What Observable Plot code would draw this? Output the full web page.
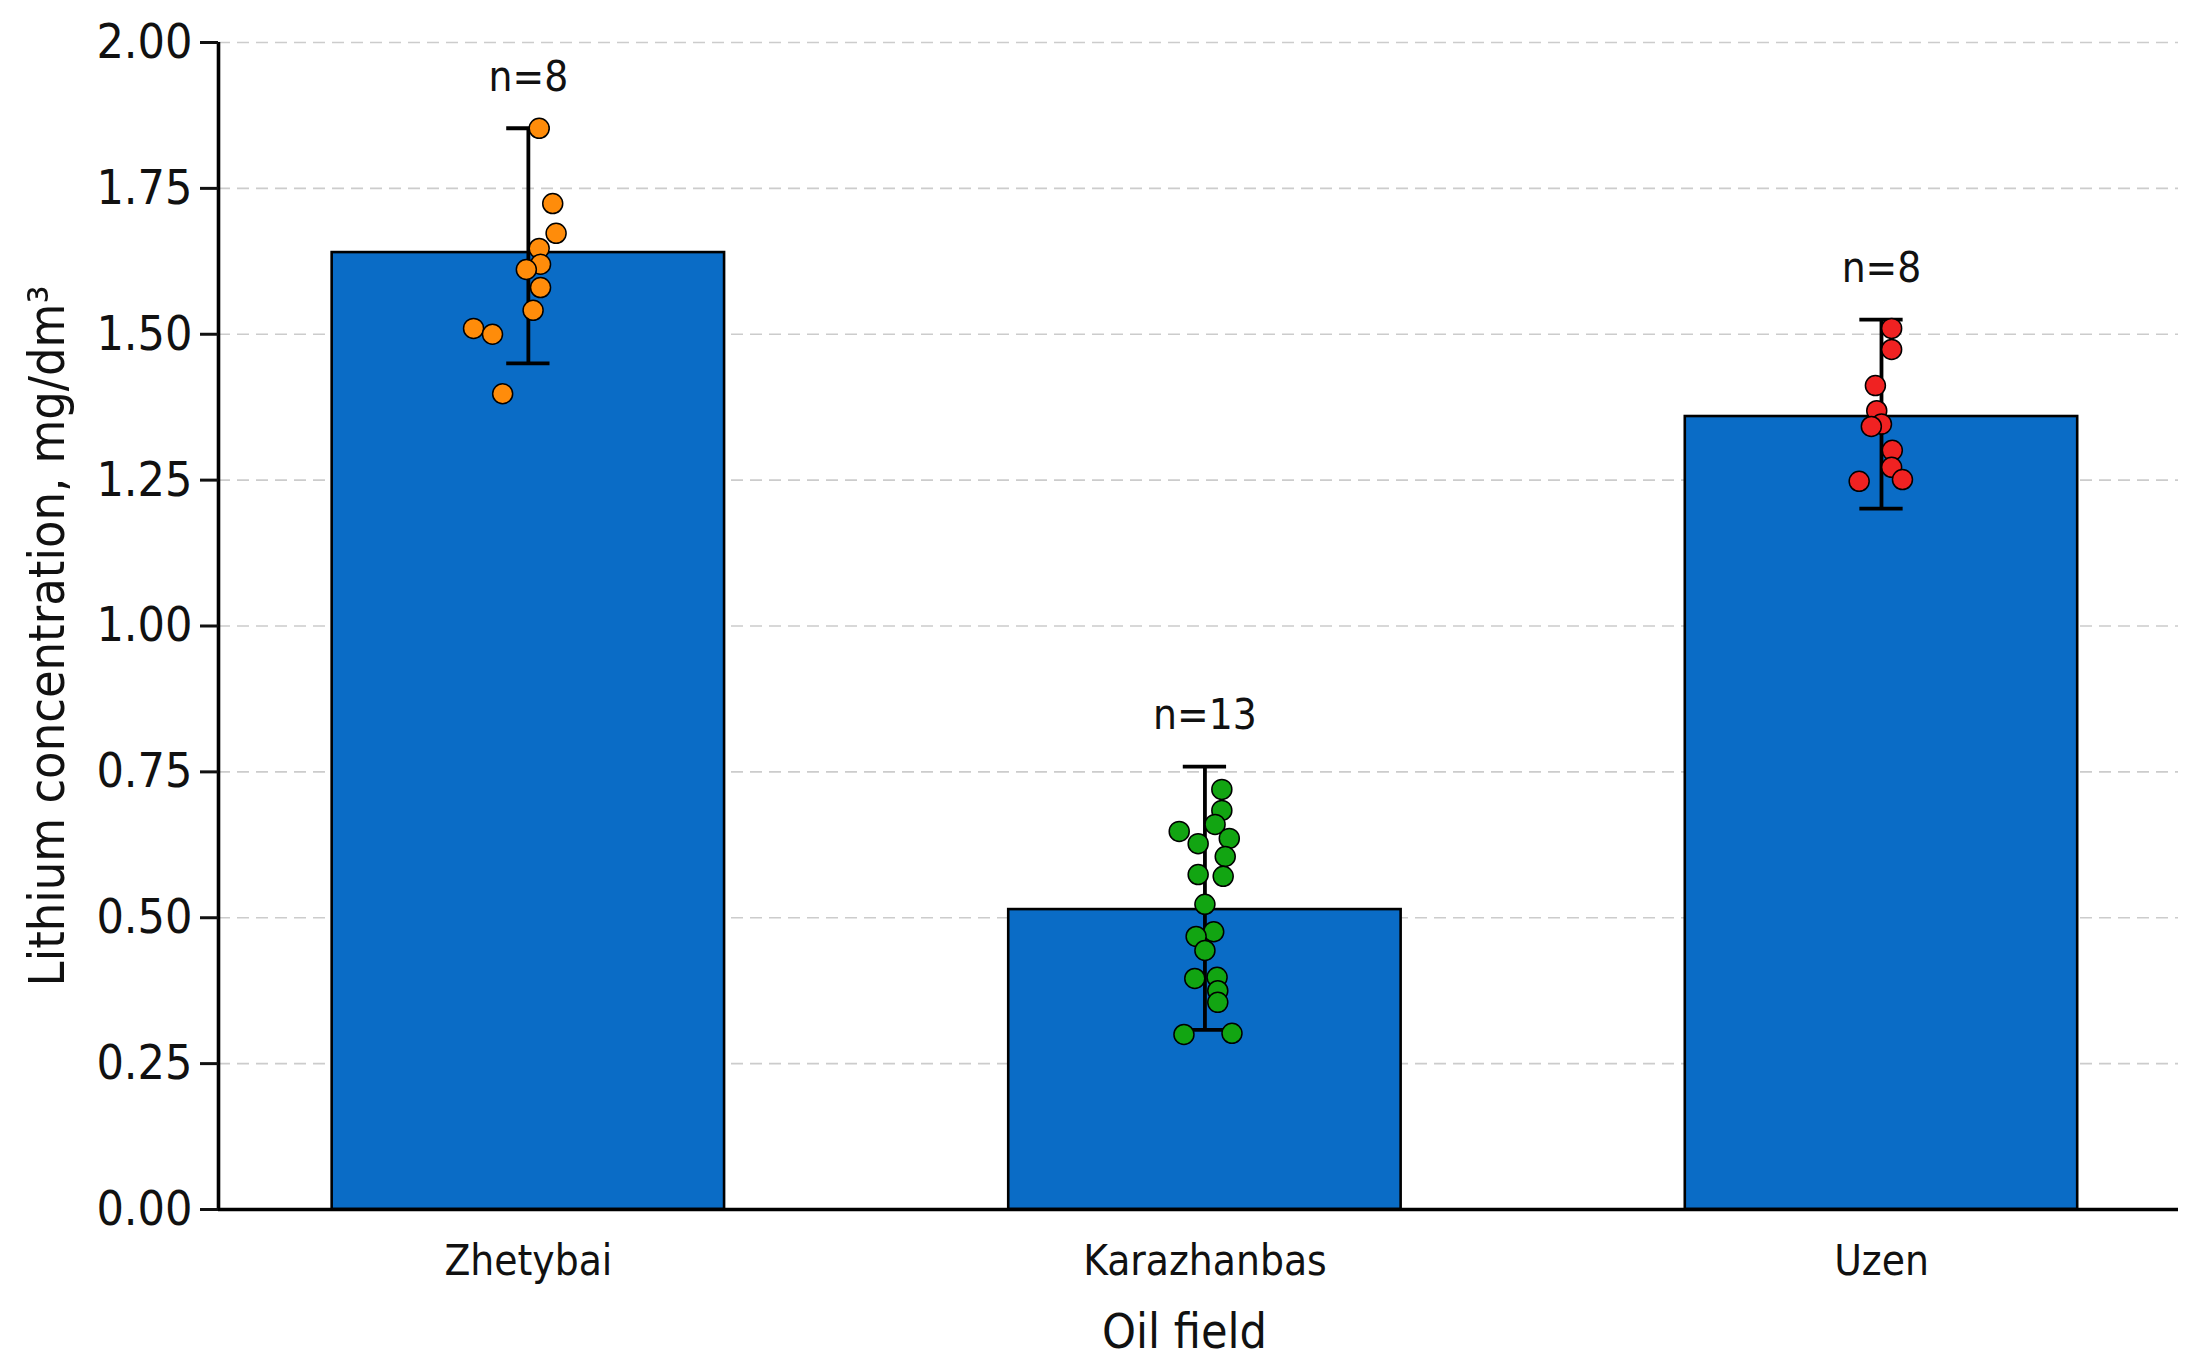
<!DOCTYPE html>
<html>
<head>
<meta charset="utf-8">
<script src="https://cdn.jsdelivr.net/npm/d3@7"></script>
<script src="https://cdn.jsdelivr.net/npm/@observablehq/plot@0.6"></script>
<style>
  html, body { margin: 0; padding: 0; background: #fff; }
  #chart svg { display: block; }
</style>
</head>
<body>
<div id="chart"></div>
<script>
// ---- data ----
const fields = ["Zhetybai", "Karazhanbas", "Uzen"];
const means  = [1.640, 0.514, 1.359];
const lower  = [1.450, 0.308, 1.201];
const upper  = [1.853, 0.759, 1.525];
const counts = [8, 13, 8];

const zhetybaiValues = [1.853, 1.724, 1.673, 1.647, 1.620, 1.611, 1.580, 1.541, 1.510, 1.500, 1.398];
const zhetybaiJitter = [0.016, 0.036, 0.041, 0.016, 0.018, -0.003, 0.018, 0.007, -0.081, -0.053, -0.038];

const karazhanbasValues = [0.720, 0.684, 0.660, 0.648, 0.627, 0.636, 0.605, 0.574, 0.571, 0.523, 0.476, 0.468, 0.444, 0.396, 0.398, 0.375, 0.355, 0.300, 0.302];
const karazhanbasJitter = [0.025, 0.025, 0.015, -0.038, -0.010, 0.036, 0.030, -0.010, 0.027, 0.000, 0.013, -0.013, 0.000, -0.015, 0.018, 0.019, 0.019, -0.031, 0.040];

const uzenValues = [1.510, 1.474, 1.412, 1.369, 1.346, 1.342, 1.301, 1.272, 1.248, 1.251];
const uzenJitter = [0.015, 0.015, -0.009, -0.007, 0.000, -0.015, 0.016, 0.015, -0.033, 0.031];

const yTicks = [0, 0.25, 0.5, 0.75, 1.0, 1.25, 1.5, 1.75, 2.0];
const yLabel = "Lithium concentration, mg/dm³";
const xLabel = "Oil field";

// ---- tables built from the arrays ----
const fieldTable = fields.map((name, i) => ({
  name, i, mean: means[i], lower: lower[i], upper: upper[i], n: counts[i]
}));
const caps = fieldTable.flatMap(d => [{i: d.i, y: d.lower}, {i: d.i, y: d.upper}]);
const points = [
  ...zhetybaiValues.map((v, k) => ({i: 0, v, j: zhetybaiJitter[k]})),
  ...karazhanbasValues.map((v, k) => ({i: 1, v, j: karazhanbasJitter[k]})),
  ...uzenValues.map((v, k) => ({i: 2, v, j: uzenJitter[k]}))
];

// ---- layout / style ----
const W = 2196, H = 1370;
const xDomain = [-0.458, 2.439];
const barHalf = 0.29;
const capHalf = 0.032;
const font = "'DejaVu Sans Condensed', 'DejaVu Sans', sans-serif";

const chart = Plot.plot({
  width: W,
  height: H,
  marginLeft: 218,
  marginRight: 18,
  marginTop: 42,
  marginBottom: 161,
  style: {fontFamily: font, fontStretch: "condensed", background: "#fff", color: "#111"},
  x: {type: "linear", domain: xDomain},
  y: {domain: [0, 2]},
  color: {domain: fields, range: ["#ff8c0a", "#12a512", "#f02222"]},
  marks: [
    Plot.gridY({ticks: yTicks, stroke: "#cccccc", strokeOpacity: 1, strokeWidth: 1.6, strokeDasharray: "12,7"}),
    Plot.rectY(fieldTable, {
      x1: d => d.i - barHalf, x2: d => d.i + barHalf, y1: 0, y2: "mean",
      fill: "#0a6cc6", stroke: "#000", strokeWidth: 2.6
    }),
    Plot.ruleX(fieldTable, {x: "i", y1: "lower", y2: "upper", stroke: "#000", strokeWidth: 3.8}),
    Plot.ruleY(caps, {y: "y", x1: d => d.i - capHalf, x2: d => d.i + capHalf, stroke: "#000", strokeWidth: 3.8}),
    Plot.dot(points, {
      x: d => d.i + d.j, y: "v", r: 10,
      fill: d => fields[d.i], stroke: "#000", strokeWidth: 1.5
    }),
    Plot.text(fieldTable, {
      x: "i", y: "upper", text: d => "n=" + d.n, dy: -51,
      fontSize: 42, lineAnchor: "middle", fill: "#111"
    }),
    Plot.ruleX([xDomain[0]], {stroke: "#000", strokeWidth: 3.6}),
    Plot.ruleY([0], {stroke: "#000", strokeWidth: 3.6}),
    Plot.axisY({
      ticks: yTicks, tickFormat: d3.format(".2f"), tickSize: 18, tickPadding: 8,
      fontSize: 48, strokeWidth: 3, label: null, fill: "#111"
    }),
    Plot.axisX({
      ticks: [0, 1, 2], tickFormat: i => fields[i], tickSize: 0, tickPadding: 36,
      fontSize: 42, label: null, fill: "#111"
    }),
    Plot.text([xLabel], {
      text: d => d, frameAnchor: "bottom", dx: -14, dy: 123, fontSize: 48,
      lineAnchor: "middle", textAnchor: "middle", fill: "#111"
    }),
    Plot.text([yLabel], {
      text: d => d, frameAnchor: "left", dx: -155, dy: 10, rotate: -90,
      fontSize: 50, lineAnchor: "bottom", textAnchor: "middle", fill: "#111"
    })
  ]
});

document.getElementById("chart").appendChild(chart);
</script>
</body>
</html>
